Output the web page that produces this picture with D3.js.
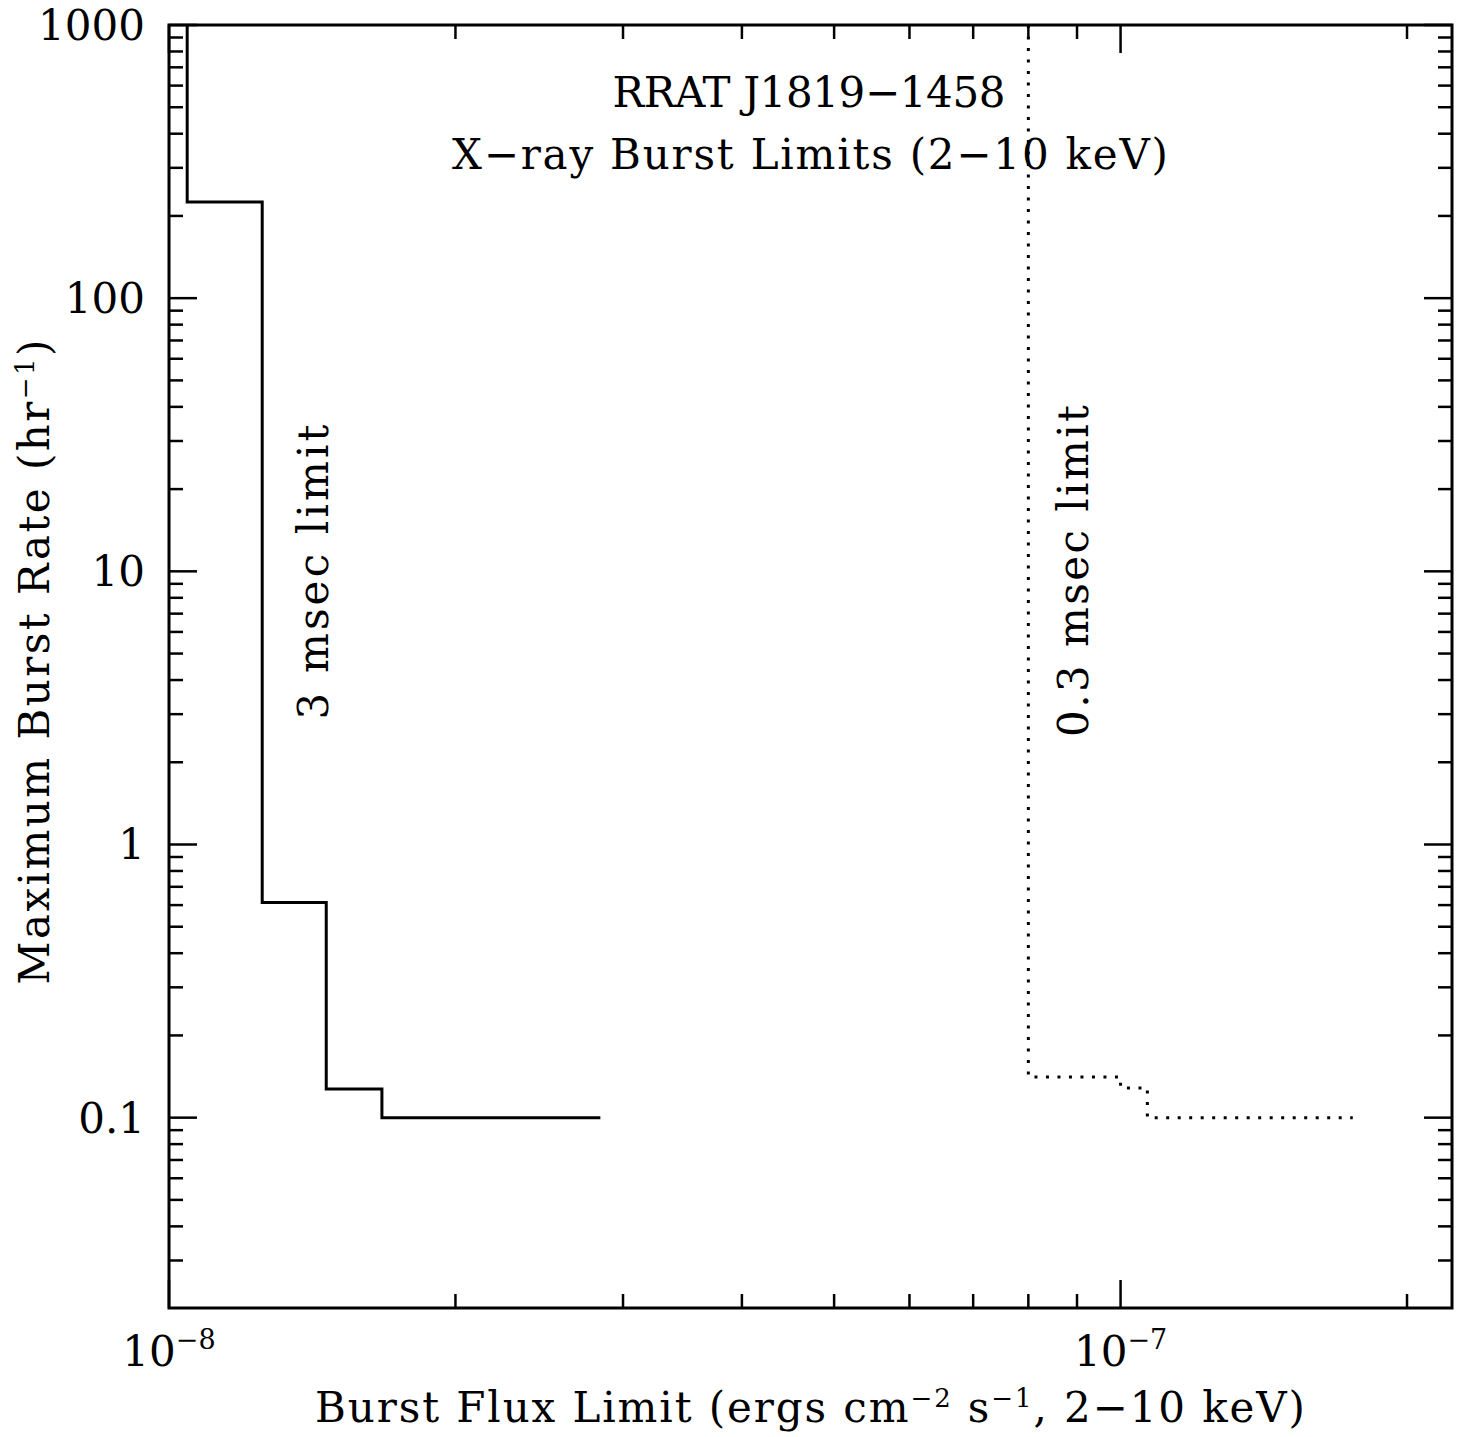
<!DOCTYPE html>
<html lang="en">
<head>
    <meta charset="UTF-8">
    <title>RRAT J1819-1458 X-ray Burst Limits</title>
    <script src="https://d3js.org/d3.v7.min.js"></script>
    <style>
        body { margin: 0; background: #fff; }
        text { font-family: "DejaVu Serif", "Liberation Serif", serif; fill: #000; }
        .frame { fill: none; stroke: #000; stroke-width: 3; }
        .tick-line { stroke: #000; stroke-width: 2.5; }
    </style>
</head>
<body>
    <svg id="chart" width="1465" height="1437"></svg>
    <script>
        // 3 msec limit (solid step line): flux edges and rate levels
        const flux3ms = [1.045e-8, 1.253e-8, 1.463e-8, 1.674e-8, 2.84e-8];
        const rate3ms = [1000, 225, 0.613, 0.1274, 0.1];

        // 0.3 msec limit (dotted step line)
        const flux03ms = [8.0e-8, 1.0e-7, 1.067e-7, 1.754e-7];
        const rate03ms = [1000, 0.141, 0.1285, 0.1];

        // axis labels
        const yTickValues = [1000, 100, 10, 1, 0.1];
        const yTickLabels = ["1000", "100", "10", "1", "0.1"];
        const xTickExponents = [-8, -7];

        const svg = d3.select("#chart");
        const margin = { top: 25, right: 13, bottom: 129, left: 169 };
        const width = 1465, height = 1437;
        const x0 = margin.left, x1 = width - margin.right;
        const y0 = margin.top, y1 = height - margin.bottom;

        const x = d3.scaleLog().domain([1e-8, 2.23e-7]).range([x0, x1]);
        const y = d3.scaleLog().domain([0.0201, 1000]).range([y1, y0]);

        const isMajor = v => Math.abs(Math.log10(v) - Math.round(Math.log10(v))) < 1e-9;

        // ticks on all four sides, pointing inward
        const ticks = svg.append("g");
        x.ticks().forEach(v => {
            const len = isMajor(v) ? 28 : 14;
            const px = x(v);
            ticks.append("line").attr("class", "tick-line")
                .attr("x1", px).attr("x2", px).attr("y1", y1).attr("y2", y1 - len);
            ticks.append("line").attr("class", "tick-line")
                .attr("x1", px).attr("x2", px).attr("y1", y0).attr("y2", y0 + len);
        });
        y.ticks().forEach(v => {
            const len = isMajor(v) ? 28 : 14;
            const py = y(v);
            ticks.append("line").attr("class", "tick-line")
                .attr("y1", py).attr("y2", py).attr("x1", x0).attr("x2", x0 + len);
            ticks.append("line").attr("class", "tick-line")
                .attr("y1", py).attr("y2", py).attr("x1", x1).attr("x2", x1 - len);
        });

        svg.append("rect").attr("class", "frame")
            .attr("x", x0).attr("y", y0)
            .attr("width", x1 - x0).attr("height", y1 - y0);

        // y tick labels
        svg.append("g").selectAll("text")
            .data(yTickValues)
            .enter().append("text")
            .attr("x", x0 - 24)
            .attr("y", d => y(d) + 15)
            .attr("text-anchor", "end")
            .attr("font-size", 42)
            .text((d, i) => yTickLabels[i]);

        // x tick labels (10^n)
        xTickExponents.forEach(e => {
            const t = svg.append("text")
                .attr("x", x(Math.pow(10, e)))
                .attr("y", 1366)
                .attr("text-anchor", "middle")
                .attr("font-size", 42);
            t.append("tspan").text("10");
            t.append("tspan").attr("dy", -17).attr("font-size", 27).text("\u2212" + Math.abs(e));
        });

        // step lines
        const line = d3.line()
            .x(d => x(d[0]))
            .y(d => y(d[1]))
            .curve(d3.curveStepBefore);

        svg.append("path")
            .datum(d3.zip(flux3ms, rate3ms))
            .attr("fill", "none")
            .attr("stroke", "#000")
            .attr("stroke-width", 3)
            .attr("d", line);

        svg.append("path")
            .datum(d3.zip(flux03ms, rate03ms))
            .attr("fill", "none")
            .attr("stroke", "#000")
            .attr("stroke-width", 3)
            .attr("stroke-dasharray", "3,8.5")
            .attr("d", line);

        // title
        svg.append("text")
            .attr("x", 809).attr("y", 107)
            .attr("text-anchor", "middle")
            .attr("font-size", 42)
            .attr("textLength", 393).attr("lengthAdjust", "spacing")
            .text("RRAT J1819\u22121458");
        svg.append("text")
            .attr("x", 810).attr("y", 169)
            .attr("text-anchor", "middle")
            .attr("font-size", 42)
            .attr("textLength", 716).attr("lengthAdjust", "spacing")
            .text("X\u2212ray Burst Limits (2\u221210 keV)");

        // annotations
        svg.append("text")
            .attr("transform", "translate(328,572) rotate(-90)")
            .attr("text-anchor", "middle")
            .attr("font-size", 42)
            .attr("textLength", 295).attr("lengthAdjust", "spacing")
            .text("3 msec limit");
        svg.append("text")
            .attr("transform", "translate(1088,571) rotate(-90)")
            .attr("text-anchor", "middle")
            .attr("font-size", 42)
            .attr("textLength", 332).attr("lengthAdjust", "spacing")
            .text("0.3 msec limit");

        // x axis title
        const xt = svg.append("text")
            .attr("x", 810).attr("y", 1422)
            .attr("text-anchor", "middle")
            .attr("font-size", 42)
            .attr("textLength", 990).attr("lengthAdjust", "spacing");
        xt.append("tspan").text("Burst Flux Limit (ergs cm");
        xt.append("tspan").attr("dy", -15).attr("font-size", 26).text("\u22122");
        xt.append("tspan").attr("dy", 15).text(" s");
        xt.append("tspan").attr("dy", -15).attr("font-size", 26).text("\u22121");
        xt.append("tspan").attr("dy", 15).text(", 2\u221210 keV)");

        // y axis title
        const yt = svg.append("text")
            .attr("transform", "translate(49,662) rotate(-90)")
            .attr("text-anchor", "middle")
            .attr("font-size", 42)
            .attr("textLength", 645).attr("lengthAdjust", "spacing");
        yt.append("tspan").text("Maximum Burst Rate (hr");
        yt.append("tspan").attr("dy", -15).attr("font-size", 26).text("\u22121");
        yt.append("tspan").attr("dy", 15).text(")");
    </script>
</body>
</html>
